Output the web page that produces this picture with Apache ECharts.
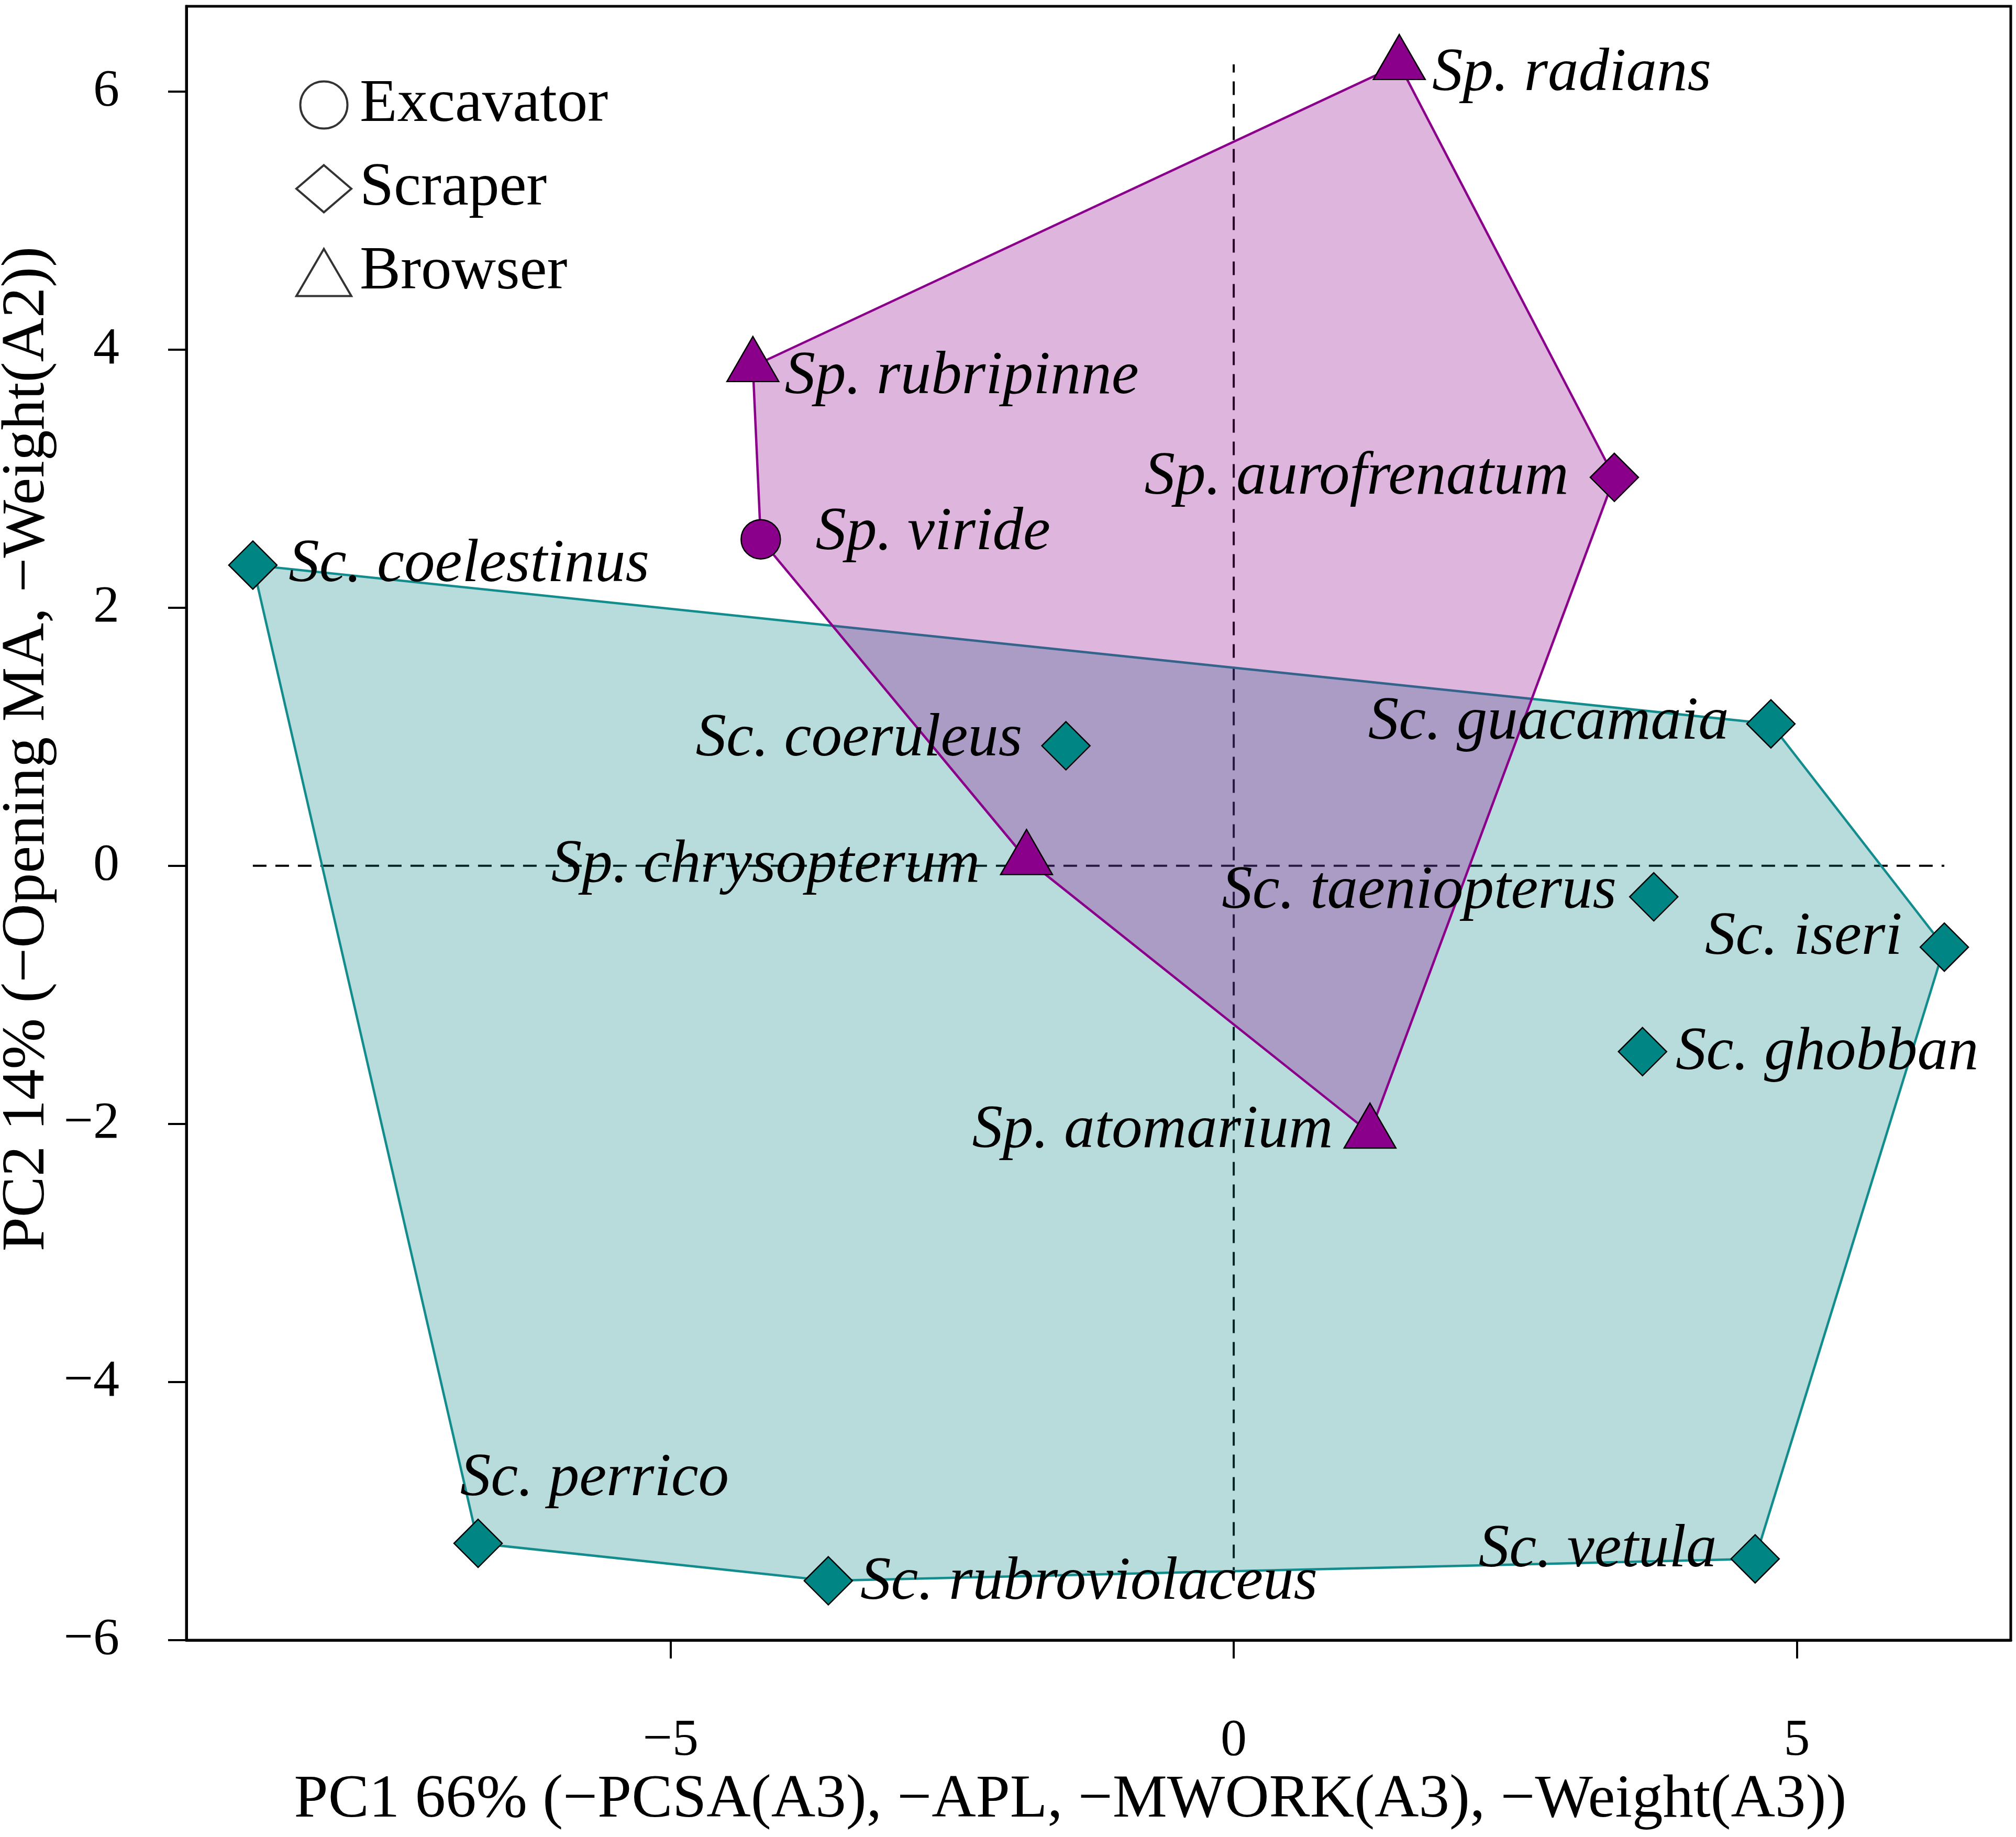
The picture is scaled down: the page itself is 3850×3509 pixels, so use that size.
<!DOCTYPE html>
<html><head><meta charset="utf-8">
<script src="https://cdn.jsdelivr.net/npm/echarts@6/dist/echarts.min.js"></script>
<style>html,body{margin:0;padding:0;background:#fff}#c{width:3850px;height:3509px}</style>
</head><body><div id="c"></div>
<script>
// ---- data ----
const guilds = ['Excavator', 'Scraper', 'Browser'];
const spNames = ['Sp. radians', 'Sp. rubripinne', 'Sp. aurofrenatum', 'Sp. viride', 'Sp. chrysopterum', 'Sp. atomarium'];
const spX = [1.47, -4.27, 3.38, -4.20, -1.84, 1.21];
const spY = [6.21, 3.87, 3.01, 2.53, 0.05, -2.07];
const spGuild = ['Browser', 'Browser', 'Scraper', 'Excavator', 'Browser', 'Browser'];
const scNames = ['Sc. coelestinus', 'Sc. coeruleus', 'Sc. guacamaia', 'Sc. taeniopterus', 'Sc. iseri', 'Sc. ghobban', 'Sc. perrico', 'Sc. rubroviolaceus', 'Sc. vetula'];
const scX = [-8.71, -1.49, 4.77, 3.73, 6.31, 3.63, -6.71, -3.60, 4.63];
const scY = [2.33, 0.93, 1.10, -0.24, -0.63, -1.44, -5.25, -5.54, -5.37];
const scGuild = ['Scraper', 'Scraper', 'Scraper', 'Scraper', 'Scraper', 'Scraper', 'Scraper', 'Scraper', 'Scraper'];
const xTicks = [-5, 0, 5];
const yTicks = [-6, -4, -2, 0, 2, 4, 6];
const xTitle = 'PC1 66% (\u2212PCSA(A3), \u2212APL, \u2212MWORK(A3), \u2212Weight(A3))';
const yTitle = 'PC2 14% (\u2212Opening MA, \u2212Weight(A2))';

// ---- styling / layout ----
const FONT = 'Liberation Serif';
const symbolOf = { Excavator: 'circle', Scraper: 'diamond', Browser: 'triangle' };
const sizeOf = { Excavator: 75, Scraper: [92, 92], Browser: [99, 86] };
const offsetOf = { Excavator: [0, 0], Scraper: [0, 0], Browser: [0, -14] };
// label side, distance from symbol edge, vertical offset
const labelLayout = {
  'Sp. radians': ['right', 12, 18],
  'Sp. rubripinne': ['right', 10, 20],
  'Sp. aurofrenatum': ['left', 40, 0],
  'Sp. viride': ['right', 66, -12],
  'Sp. chrysopterum': ['left', 38, 12],
  'Sp. atomarium': ['left', 20, -4],
  'Sc. coelestinus': ['right', 21, 0],
  'Sc. coeruleus': ['left', 36, -12],
  'Sc. guacamaia': ['left', 33, -2],
  'Sc. taeniopterus': ['left', 24, -10],
  'Sc. iseri': ['left', 33, -18],
  'Sc. ghobban': ['right', 16, 2],
  'Sc. perrico': [[13, -76], 0, 0],
  'Sc. rubroviolaceus': ['right', 14, 4],
  'Sc. vetula': ['left', 26, -16]
};

function hull(xs, ys) {
  const p = xs.map((x, i) => [x, ys[i]]).sort((a, b) => a[0] - b[0] || a[1] - b[1]);
  const cross = (o, a, b) => (a[0] - o[0]) * (b[1] - o[1]) - (a[1] - o[1]) * (b[0] - o[0]);
  const lower = [], upper = [];
  for (const q of p) { while (lower.length >= 2 && cross(lower[lower.length - 2], lower[lower.length - 1], q) <= 0) lower.pop(); lower.push(q); }
  for (let i = p.length - 1; i >= 0; i--) { const q = p[i]; while (upper.length >= 2 && cross(upper[upper.length - 2], upper[upper.length - 1], q) <= 0) upper.pop(); upper.push(q); }
  upper.pop(); lower.pop();
  return lower.concat(upper);
}

function hullSeries(name, xs, ys, fill, stroke, z) {
  const pts = hull(xs, ys);
  return {
    type: 'custom', name: name, z: z, silent: true,
    data: pts,
    renderItem: function (params, api) {
      if (params.dataIndex !== 0) return null;
      return {
        type: 'polygon',
        shape: { points: pts.map(p => api.coord(p)) },
        style: { fill: fill, stroke: stroke, lineWidth: 4.5 }
      };
    }
  };
}

function pointItems(names, xs, ys, gs) {
  return names.map((n, i) => {
    const L = labelLayout[n];
    const lab = { show: true, distance: L[1], offset: [0, L[2] - offsetOf[gs[i]][1]] };
    if (Array.isArray(L[0])) { lab.position = L[0]; lab.align = 'left'; lab.verticalAlign = 'middle'; lab.offset = [0, 0]; }
    else lab.position = L[0];
    return {
      name: n, value: [xs[i], ys[i]],
      symbol: symbolOf[gs[i]], symbolSize: sizeOf[gs[i]], symbolOffset: offsetOf[gs[i]],
      label: lab
    };
  });
}

const allX = spX.concat(scX), allY = spY.concat(scY);
const xmin = Math.min(...allX), xmax = Math.max(...allX);
const ymin = Math.min(...allY), ymax = Math.max(...allY);
const minus = v => String(v).replace('-', '\u2212');
const labelStyle = { formatter: '{b}', fontFamily: FONT, fontStyle: 'italic', fontSize: 117, color: '#000' };
const dash = { color: '#000', width: 4, type: [26, 17] };

const chart = echarts.init(document.getElementById('c'), null, { renderer: 'canvas' });
chart.setOption({
  backgroundColor: '#fff',
  animation: false,
  grid: { left: 356, top: 12, width: 3484, height: 3121, show: true, borderColor: '#000', borderWidth: 5, containLabel: false, outerBoundsMode: 'none' },
  legend: {
    orient: 'vertical', left: 559, top: 137, itemWidth: 105, itemHeight: 90, itemGap: 43, selectedMode: false,
    textStyle: { fontFamily: FONT, fontSize: 117, color: '#000', padding: [0, 0, 0, 11] },
    data: guilds.map(g => ({ name: g, icon: symbolOf[g], itemStyle: { color: 'rgba(0,0,0,0)', borderColor: '#000', borderWidth: 4 } }))
  },
  xAxis: {
    type: 'value', min: -9.30, max: 6.90,
    splitLine: { show: false },
    axisLine: { show: true, onZero: false, lineStyle: { color: '#000', width: 5 } },
    axisTick: { show: true, customValues: xTicks, length: 35, inside: false, lineStyle: { color: '#000', width: 4 } },
    axisLabel: { customValues: xTicks, formatter: minus, fontFamily: FONT, fontSize: 100, color: '#000', margin: 143 },
    name: xTitle, nameLocation: 'middle', nameGap: 247,
    nameTextStyle: { fontFamily: FONT, fontSize: 117, color: '#000', padding: [0, 108, 0, 0] }
  },
  yAxis: {
    type: 'value', min: -6, max: 6.66,
    splitLine: { show: false },
    axisLine: { show: true, onZero: false, lineStyle: { color: '#000', width: 5 } },
    axisTick: { show: true, customValues: yTicks, length: 35, inside: false, lineStyle: { color: '#000', width: 4 } },
    axisLabel: { customValues: yTicks, formatter: minus, fontFamily: FONT, fontSize: 100, color: '#000', margin: 128 },
    name: yTitle, nameLocation: 'middle', nameGap: 228, nameRotate: 90,
    nameTextStyle: { fontFamily: FONT, fontSize: 117, color: '#000', padding: [0, 0, 0, 284] }
  },
  series: [
    { type: 'line', name: 'h0', data: [[xmin, 0], [xmax, 0]], symbol: 'none', lineStyle: dash, z: 1, silent: true },
    { type: 'line', name: 'v0', data: [[0, ymin], [0, ymax]], symbol: 'none', lineStyle: dash, z: 1, silent: true },
    hullSeries('Scarus hull', scX, scY, 'rgba(0,128,128,0.28)', '#128c8c', 2),
    hullSeries('Sparisoma hull', spX, spY, 'rgba(139,0,139,0.29)', '#8b008b', 3),
    {
      type: 'scatter', name: 'Scarus', z: 5,
      itemStyle: { color: '#008585', borderColor: '#000', borderWidth: 2.5, opacity: 1 },
      label: labelStyle,
      data: pointItems(scNames, scX, scY, scGuild)
    },
    {
      type: 'scatter', name: 'Sparisoma', z: 5,
      itemStyle: { color: '#8b008b', borderColor: '#000', borderWidth: 2.5, opacity: 1 },
      label: labelStyle,
      data: pointItems(spNames, spX, spY, spGuild)
    },
    ...guilds.map(g => ({ type: 'scatter', name: g, data: [], symbol: symbolOf[g], itemStyle: { color: 'rgba(0,0,0,0)', borderColor: '#000', borderWidth: 4 } }))
  ]
});
</script>
</body></html>
